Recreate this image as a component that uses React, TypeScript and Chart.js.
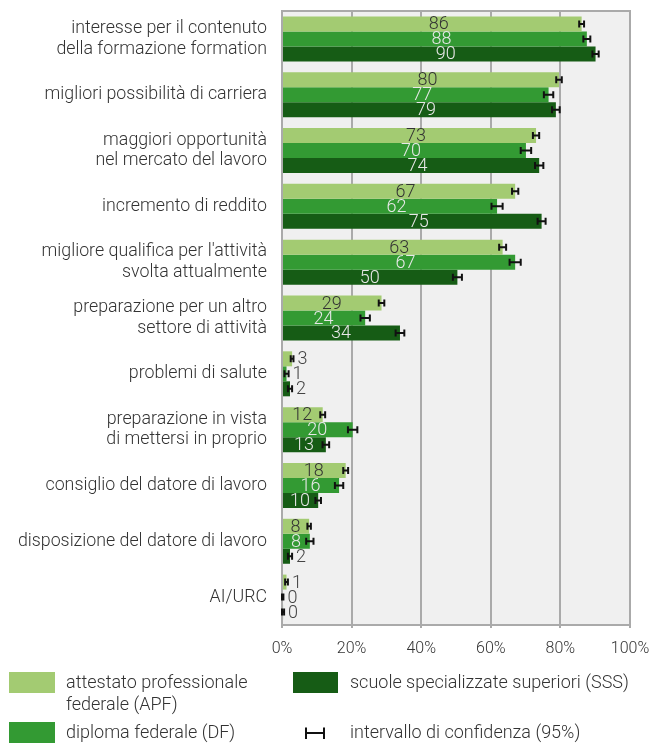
import React, { useEffect, useRef } from 'react';
import { Chart, registerables } from 'chart.js';

Chart.register(...registerables);

const categories: (string | string[])[] = [
  ['interesse per il contenuto', 'della formazione formation'],
  'migliori possibilità di carriera',
  ['maggiori opportunità', 'nel mercato del lavoro'],
  'incremento di reddito',
  ["migliore qualifica per l'attività", 'svolta attualmente'],
  ['preparazione per un altro', 'settore di attività'],
  'problemi di salute',
  ['preparazione in vista', 'di mettersi in proprio'],
  'consiglio del datore di lavoro',
  'disposizione del datore di lavoro',
  'AI/URC',
];

const seriesNames = [
  'attestato professionale federale (APF)',
  'diploma federale (DF)',
  'scuole specializzate superiori (SSS)',
];

const apfValues = [86.1, 79.6, 73.0, 67.0, 63.4, 28.6, 2.9, 11.7, 18.3, 7.8, 1.3];
const dfValues = [87.6, 76.6, 70.1, 61.8, 67.0, 23.9, 1.3, 20.3, 16.4, 8.0, 0.2];
const sssValues = [90.1, 78.7, 73.9, 74.6, 50.4, 33.9, 2.3, 12.6, 10.4, 2.3, 0.3];

const apfCI = [0.7, 0.8, 0.9, 0.9, 1.0, 0.8, 0.4, 0.7, 0.7, 0.5, 0.4];
const dfCI = [1.0, 1.35, 1.5, 1.6, 1.6, 1.35, 0.6, 1.35, 1.2, 1.05, 0.2];
const sssCI = [0.9, 1.1, 1.2, 1.15, 1.3, 1.25, 0.6, 0.95, 0.8, 0.6, 0.3];

const xTicks = [0, 20, 40, 60, 80, 100];

const COLORS = ['#a3cb72', '#339a33', '#165c15'];
const LABEL_COLORS = ['#333333', '#e8e8e8', '#e8e8e8'];
const FAMILY = 'Roboto, "Open Sans", sans-serif';

const ciSets = [apfCI, dfCI, sssCI];

const overlayPlugin = {
  id: 'overlay',
  beforeDraw(chart: any) {
    const { ctx, chartArea } = chart;
    ctx.save();
    ctx.fillStyle = '#f0f0f0';
    ctx.fillRect(chartArea.left, chartArea.top, chartArea.right - chartArea.left, chartArea.bottom - chartArea.top);
    ctx.restore();
  },
  afterDatasetsDraw(chart: any) {
    const { ctx, chartArea } = chart;
    const xs = chart.scales.x;
    ctx.save();
    ctx.strokeStyle = '#aaaaaa';
    ctx.lineWidth = 2;
    ctx.strokeRect(chartArea.left, chartArea.top, chartArea.right - chartArea.left, chartArea.bottom - chartArea.top);

    chart.data.datasets.forEach((ds: any, i: number) => {
      const meta = chart.getDatasetMeta(i);
      meta.data.forEach((bar: any, j: number) => {
        const v = ds.data[j] as number;
        const ci = ciSets[i][j];
        const y = bar.y;
        const x0 = xs.getPixelForValue(Math.max(0, v - ci));
        const x1 = xs.getPixelForValue(v + ci);
        ctx.strokeStyle = '#111111';
        ctx.lineWidth = 2;
        ctx.beginPath();
        ctx.moveTo(x0, y);
        ctx.lineTo(x1, y);
        ctx.moveTo(x0, y - 3.5);
        ctx.lineTo(x0, y + 3.5);
        ctx.moveTo(x1, y - 3.5);
        ctx.lineTo(x1, y + 3.5);
        ctx.stroke();

        const text = String(Math.round(v));
        ctx.font = `300 18px ${FAMILY}`;
        ctx.textBaseline = 'middle';
        if (v < 5) {
          ctx.fillStyle = '#444444';
          ctx.textAlign = 'left';
          ctx.fillText(text, x1 + 4, y + 1);
        } else {
          const base = xs.getPixelForValue(0);
          const end = xs.getPixelForValue(v);
          const w = end - base;
          const cx = base + w / 2 + (w > 200 ? 7 : 0);
          ctx.fillStyle = LABEL_COLORS[i];
          ctx.textAlign = 'center';
          ctx.fillText(text, cx, y + 1);
        }
      });
    });
    ctx.restore();
  },
  afterDraw(chart: any) {
    const { ctx } = chart;
    ctx.save();
    ctx.font = `300 18px ${FAMILY}`;
    ctx.textBaseline = 'middle';
    ctx.textAlign = 'left';
    ctx.fillStyle = COLORS[0];
    ctx.fillRect(9, 672, 46, 21);
    ctx.fillStyle = '#333333';
    ctx.fillText('attestato professionale', 66, 683);
    ctx.fillText('federale (APF)', 66, 705);
    ctx.fillStyle = COLORS[1];
    ctx.fillRect(9, 722, 46, 21);
    ctx.fillStyle = '#333333';
    ctx.fillText(seriesNames[1], 66, 733);
    ctx.fillStyle = COLORS[2];
    ctx.fillRect(293, 672, 45, 21);
    ctx.fillStyle = '#333333';
    ctx.fillText(seriesNames[2], 350, 683);
    ctx.strokeStyle = '#111111';
    ctx.lineWidth = 2;
    ctx.beginPath();
    ctx.moveTo(306, 733);
    ctx.lineTo(324, 733);
    ctx.moveTo(306, 727.5);
    ctx.lineTo(306, 739);
    ctx.moveTo(324, 727.5);
    ctx.lineTo(324, 739);
    ctx.stroke();
    ctx.fillText('intervallo di confidenza (95%)', 350, 733);
    ctx.restore();
  },
};

export default function App() {
  const ref = useRef<HTMLCanvasElement>(null);
  useEffect(() => {
    if (!ref.current) return;
    const values = [apfValues, dfValues, sssValues];
    const chart = new Chart(ref.current, {
      type: 'bar',
      data: {
        labels: categories,
        datasets: values.map((d, i) => ({
          label: seriesNames[i],
          data: d,
          backgroundColor: COLORS[i],
          borderWidth: 0,
          barPercentage: 1,
          categoryPercentage: 0.806,
        })),
      },
      options: {
        indexAxis: 'y',
        responsive: false,
        maintainAspectRatio: false,
        animation: false,
        layout: { padding: { top: 11, right: 22, bottom: 82, left: 0 } },
        plugins: { legend: { display: false }, tooltip: { enabled: false } },
        scales: {
          x: {
            min: 0,
            max: 100,
            afterBuildTicks: (s: any) => {
              s.ticks = xTicks.map((v) => ({ value: v }));
            },
            ticks: {
              callback: (v: any) => v + '%',
              font: { family: FAMILY, size: 16, weight: '300' },
              color: '#333333',
              padding: 11,
              maxRotation: 0,
            },
            grid: { color: '#aaaaaa', lineWidth: 2, tickLength: 3 },
            border: { display: false },
            afterFit: (s: any) => {
              s.height = 40;
              s.paddingLeft = 0;
              s.paddingRight = 0;
            },
          },
          y: {
            grid: { display: false, drawTicks: false },
            border: { display: false },
            ticks: {
              font: { family: FAMILY, size: 17.8, weight: '300', lineHeight: 1.15 },
              color: '#333333',
              padding: 15,
              autoSkip: false,
            },
            afterFit: (s: any) => {
              s.width = 282;
              s.paddingTop = 0;
              s.paddingBottom = 0;
            },
          },
        },
      },
      plugins: [overlayPlugin],
    } as any);
    return () => chart.destroy();
  }, []);
  return (
    <div style={{ position: 'absolute', left: 0, top: 0, width: 652, height: 747 }}>
      <canvas ref={ref} width={652} height={747} style={{ display: 'block', width: 652, height: 747 }} />
    </div>
  );
}
